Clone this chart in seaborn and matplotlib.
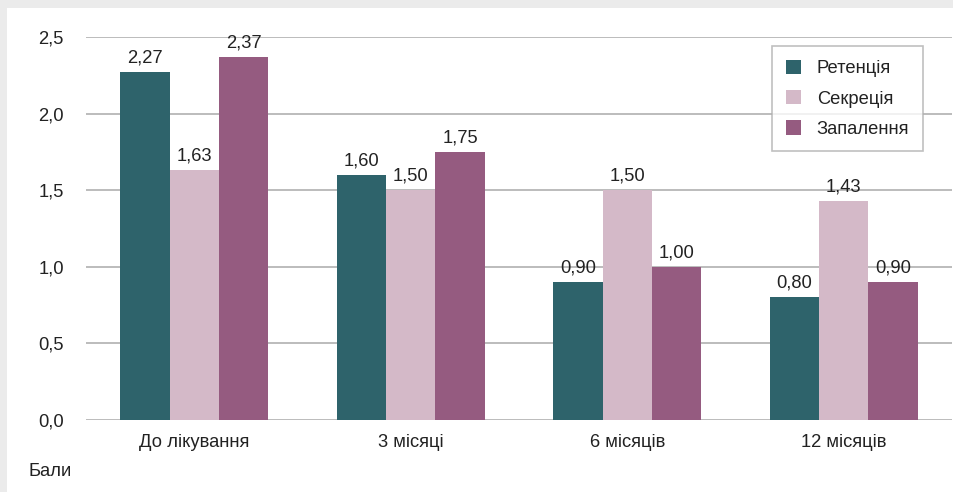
"""Bar chart: scores before treatment and at follow-up."""
import pandas as pd
import seaborn as sns
import matplotlib.pyplot as plt
from matplotlib.patches import Rectangle

sns.set_theme(style="white")
plt.rcParams["font.family"] = ["Liberation Sans", "DejaVu Sans"]

periods = ["До лікування", "3 місяці", "6 місяців", "12 місяців"]
series_names = ["Ретенція", "Секреція", "Запалення"]
retention = [2.27, 1.60, 0.90, 0.80]
secretion = [1.63, 1.50, 1.50, 1.43]
inflammation = [2.37, 1.75, 1.00, 0.90]
colors = ["#2e636b", "#d4b9c8", "#955b80"]
y_ticks = [0.0, 0.5, 1.0, 1.5, 2.0, 2.5]

rows = []
for name, values in zip(series_names, [retention, secretion, inflammation]):
    for period, v in zip(periods, values):
        rows.append({"period": period, "series": name, "value": v})
df = pd.DataFrame(rows)

text_color = "#222222"
fs = 13.2
fig = plt.figure(figsize=(9.54, 4.92), dpi=100, facecolor="#ebebeb")
fig.patches.append(Rectangle((7 / 954, 0), 1, 1 - 8 / 492, transform=fig.transFigure,
                             facecolor="white", edgecolor="none", zorder=-1))
ax = fig.add_axes([86 / 954, 1 - 420 / 492, 866 / 954, 383 / 492])
ax.set_facecolor("none")

sns.barplot(data=df, x="period", y="value", hue="series", order=periods,
            hue_order=series_names, palette=colors, saturation=1, width=0.685,
            linewidth=0, ax=ax)

for container in ax.containers:
    labels = [f"{b.get_height():.2f}".replace(".", ",") for b in container]
    ax.bar_label(container, labels=labels, padding=4, fontsize=fs, color=text_color)

ax.set_ylim(0, 2.5)
ax.set_yticks(y_ticks)
ax.set_yticklabels([f"{t:.1f}".replace(".", ",") for t in y_ticks])
ax.yaxis.grid(True, color="#b0b0b0", linewidth=1.2)
ax.set_axisbelow(True)
for s in ax.spines.values():
    s.set_visible(False)
ax.tick_params(axis="both", length=0, labelsize=fs, colors=text_color)
ax.tick_params(axis="y", pad=16)
ax.tick_params(axis="x", pad=10)
ax.set_xlabel("")
ax.set_ylabel("")

leg = ax.legend(loc="upper right", bbox_to_anchor=((923 - 86) / 866, 0.9765), borderaxespad=0,
                fontsize=fs, frameon=True, fancybox=False, handlelength=0.85,
                handleheight=0.85, handletextpad=0.85, labelspacing=0.68, borderpad=0.75)
leg.get_frame().set_edgecolor("#b0b0b0")
leg.get_frame().set_linewidth(1.2)
for t in leg.get_texts():
    t.set_color(text_color)

fig.text(50 / 954, 1 - 472 / 492, "Бали", ha="center", va="center",
         fontsize=fs, color=text_color)

fig.savefig("out.png", dpi=100, facecolor=fig.get_facecolor())
